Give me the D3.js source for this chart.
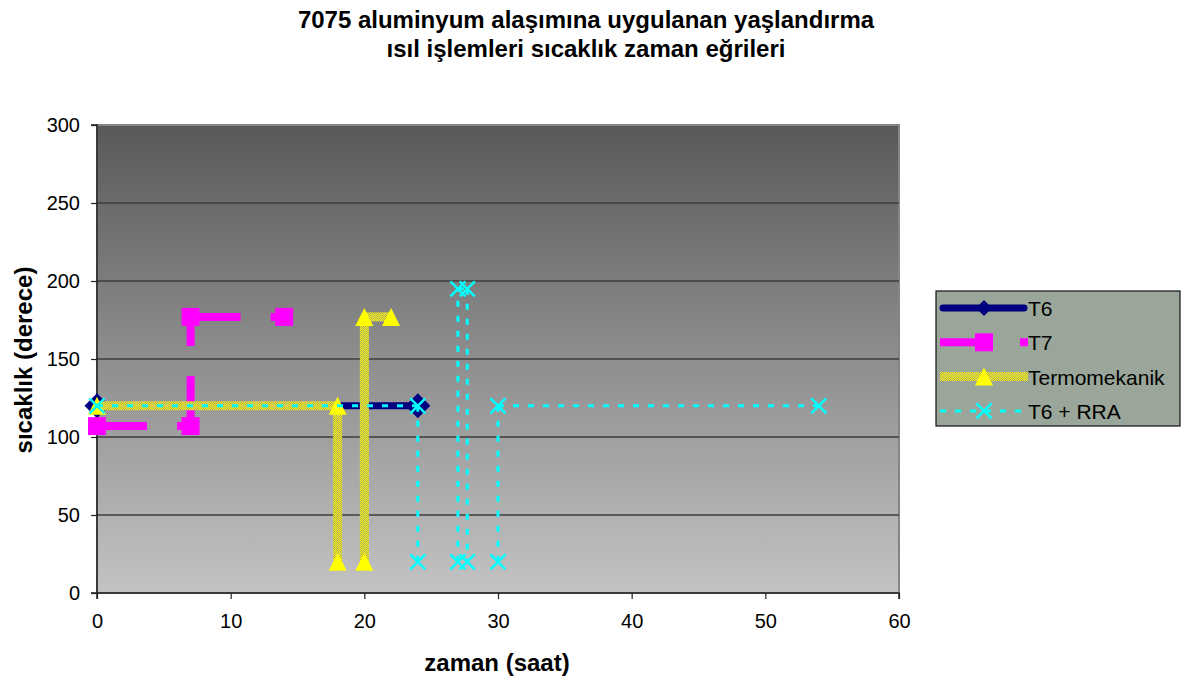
<!DOCTYPE html>
<html>
<head>
<meta charset="utf-8">
<script src="https://cdn.jsdelivr.net/npm/d3@7"></script>
<style>
  html, body { margin: 0; padding: 0; background: #fff; }
  svg { display: block; font-family: "Liberation Sans", Arial, sans-serif; }
</style>
</head>
<body>
<svg id="chart" width="1186" height="682"></svg>
<script>
// Aging heat-treatment profiles for 7075 aluminium: time (h) vs temperature
const titleLines = ["7075 aluminyum alaşımına uygulanan yaşlandırma", "ısıl işlemleri sıcaklık zaman eğrileri"];
const xTitle = "zaman (saat)";
const yTitle = "sıcaklık (derece)";
const xTicks = [0, 10, 20, 30, 40, 50, 60];
const yTicks = [0, 50, 100, 150, 200, 250, 300];

const seriesNames = ["T6", "T7", "Termomekanik", "T6 + RRA"];
// null marks a break in the curve
const t6Time = [0, 24];
const t6Temp = [120, 120];
const t7Time = [0, 7, 7, 14];
const t7Temp = [107, 107, 177, 177];
const termoTime = [0, 18, 18, null, 20, 20, 22];
const termoTemp = [120, 120, 20, null, 20, 177, 177];
const rraTime = [0, 24, 24, null, 27, 27, 27.7, 27.7, null, 30, 30, 54];
const rraTemp = [120, 120, 20, null, 20, 195, 195, 20, null, 20, 120, 120];

const svg = d3.select("#chart");
const plotL = 97, plotR = 899, plotT = 125, plotB = 593;

const x = d3.scaleLinear().domain([0, 60]).range([plotL, plotR]);
const y = d3.scaleLinear().domain([0, 300]).range([plotB, plotT]);

const defs = svg.append("defs");
const grad = defs.append("linearGradient").attr("id", "plotBg")
  .attr("x1", 0).attr("y1", 0).attr("x2", 0).attr("y2", 1);
grad.append("stop").attr("offset", "0%").attr("stop-color", "#595959");
grad.append("stop").attr("offset", "100%").attr("stop-color", "#c3c3c3");

const pat = defs.append("pattern").attr("id", "yellowHatch")
  .attr("patternUnits", "userSpaceOnUse").attr("width", 2).attr("height", 2);
pat.append("rect").attr("width", 2).attr("height", 2).attr("fill", "#ffff00");
pat.append("rect").attr("x", 1).attr("y", 0).attr("width", 1).attr("height", 1).attr("fill", "#a9a86a");
pat.append("rect").attr("x", 0).attr("y", 1).attr("width", 1).attr("height", 1).attr("fill", "#a9a86a");

// Plot area
svg.append("rect").attr("x", plotL).attr("y", plotT)
  .attr("width", plotR - plotL).attr("height", plotB - plotT)
  .attr("fill", "url(#plotBg)").attr("stroke", "#858585").attr("stroke-width", 2);

// Gridlines
svg.append("g").selectAll("line").data(yTicks.filter(t => t > 0 && t < 300)).join("line")
  .attr("x1", plotL).attr("x2", plotR)
  .attr("y1", d => y(d)).attr("y2", d => y(d))
  .attr("stroke", "#3c3c3c").attr("stroke-width", 1.5);

// Axes
const yAxis = svg.append("g").attr("transform", `translate(${plotL},0)`)
  .call(d3.axisLeft(y).tickValues(yTicks).tickSize(6).tickPadding(11));
const xAxis = svg.append("g").attr("transform", `translate(0,${plotB})`)
  .call(d3.axisBottom(x).tickValues(xTicks).tickSize(6).tickPadding(15));
[yAxis, xAxis].forEach(g => {
  g.select(".domain").attr("stroke", "#222").attr("stroke-width", 1.5);
  g.selectAll(".tick line").attr("stroke", "#222").attr("stroke-width", 1.2);
  g.selectAll(".tick text").attr("fill", "#000").style("font-size", "20px")
    .style("font-family", "'Liberation Sans', Arial, sans-serif");
});
yAxis.select(".domain").attr("d", `M-6,${plotB}H0V${plotT}H-6`);
xAxis.select(".domain").attr("d", `M${plotL},6V0H${plotR}V6`);

// Titles
svg.append("text").attr("x", 586).attr("y", 28).attr("text-anchor", "middle")
  .attr("font-weight", "bold").attr("font-size", 24).text(titleLines[0]);
svg.append("text").attr("x", 586).attr("y", 57).attr("text-anchor", "middle")
  .attr("font-weight", "bold").attr("font-size", 24).text(titleLines[1]);
svg.append("text").attr("x", 497).attr("y", 671).attr("text-anchor", "middle")
  .attr("font-weight", "bold").attr("font-size", 24).text(xTitle);
svg.append("text").attr("transform", "translate(32,360) rotate(-90)").attr("text-anchor", "middle")
  .attr("font-weight", "bold").attr("font-size", 24).text(yTitle);

// Series styles
const styles = [
  { stroke: "#000080", width: 7, dash: null, cap: "round", marker: "diamond", mFill: "#000080", mStroke: "none", mSize: 12.5 },
  { stroke: "#ff00ff", width: 8, dash: "50,30", cap: "butt", marker: "square", mFill: "#ff00ff", mStroke: "none", mSize: 9 },
  { stroke: "url(#yellowHatch)", width: 9, dash: null, cap: "butt", marker: "triangle", mFill: "#ffff00", mStroke: "none", mSize: 9 },
  { stroke: "#00ffff", width: 3, dash: "6,9", cap: "butt", marker: "x", mFill: "none", mStroke: "#00ffff", mSize: 7.5 }
];

const seriesData = [
  [t6Time, t6Temp], [t7Time, t7Temp], [termoTime, termoTemp], [rraTime, rraTemp]
].map(([xs, ys]) => xs.map((t, i) => ({ t, v: ys[i] })));

function markerPath(kind, s) {
  if (kind === "diamond") return `M0,${-s}L${s},0L0,${s}L${-s},0Z`;
  if (kind === "square") return `M${-s},${-s}H${s}V${s}H${-s}Z`;
  if (kind === "triangle") return `M0,${-s}L${s},${s}H${-s}Z`;
  return `M${-s},${-s}L${s},${s}M${s},${-s}L${-s},${s}`;
}

function drawMarker(g, kind, st, cx, cy, size) {
  g.append("path").attr("transform", `translate(${cx},${cy})`)
    .attr("d", markerPath(kind, size))
    .attr("fill", st.mFill).attr("stroke", st.mStroke).attr("stroke-width", 2.5);
}

const line = d3.line().x(d => x(d.t)).y(d => y(d.v));

seriesData.forEach((pts, si) => {
  const st = styles[si];
  const g = svg.append("g");
  // each segment drawn separately so the dash pattern restarts at every point
  for (let i = 0; i < pts.length - 1; i++) {
    const a = pts[i], b = pts[i + 1];
    if (a.v == null || b.v == null) continue;
    g.append("path").attr("d", line([a, b])).attr("fill", "none")
      .attr("stroke", st.stroke).attr("stroke-width", st.width)
      .attr("stroke-linecap", st.cap).attr("stroke-dasharray", st.dash);
  }
  pts.filter(p => p.v != null).forEach(p => drawMarker(g, st.marker, st, x(p.t), y(p.v), st.mSize));
});

// Legend
const lg = svg.append("g");
lg.append("rect").attr("x", 936).attr("y", 291).attr("width", 244).attr("height", 135)
  .attr("fill", "#99a699").attr("stroke", "#111").attr("stroke-width", 1.2);
seriesNames.forEach((name, i) => {
  const st = styles[i];
  const cy = 308 + i * 34.3;
  lg.append("path").attr("d", `M${st.cap === "round" ? 943 : 940},${cy}H${st.cap === "round" ? 1024 : 1028}`)
    .attr("stroke", st.stroke).attr("stroke-width", st.width).attr("fill", "none")
    .attr("stroke-linecap", st.cap).attr("stroke-dasharray", st.dash);
  drawMarker(lg, st.marker, st, 984, cy, st.marker === "diamond" ? 8 : st.mSize);
  lg.append("text").attr("x", 1028).attr("y", cy + 8).attr("font-size", 21).text(name);
});
</script>
</body>
</html>
